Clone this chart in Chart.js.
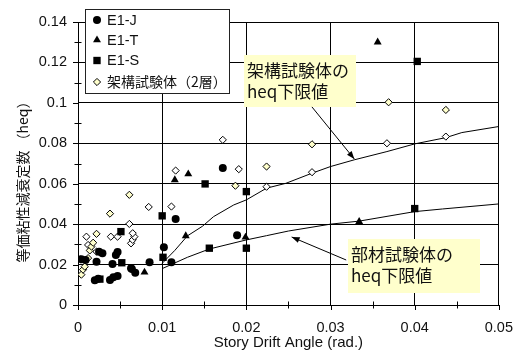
<!DOCTYPE html>
<html><head><meta charset="utf-8">
<script src="https://cdn.jsdelivr.net/npm/chart.js@4.4.0/dist/chart.umd.min.js"></script>
<style>html,body{margin:0;padding:0;background:#fff}#wrap{width:527px;height:350px}</style>
</head><body><div id="wrap"><canvas id="c" width="527" height="350"></canvas></div>
<script>
// ---- data ----
const xTickLabels = ['0', '0.01', '0.02', '0.03', '0.04', '0.05'];
const yTickLabels = ['0', '0.02', '0.04', '0.06', '0.08', '0.1', '0.12', '0.14'];
const seriesNames = ['E1-J', 'E1-T', 'E1-S', '架構試験体（2層）'];

const e1J_x = [0.0172, 0.0116, 0.0189, 0.0102, 0.0111, 0.0085, 0.0064, 0.0068, 0.0063, 0.0041, 0.0047, 0.0045, 0.0029, 0.0025, 0.0022, 0.0009, 0.0004, 0.0038, 0.0042, 0.0047, 0.0020, 0.0024];
const e1J_y = [0.0678, 0.0426, 0.0345, 0.0286, 0.0212, 0.0212, 0.0178, 0.0160, 0.0182, 0.0203, 0.0262, 0.0247, 0.0256, 0.0264, 0.0214, 0.0223, 0.0226, 0.0124, 0.0137, 0.0144, 0.0122, 0.0130];

const e1T_x = [0.0356, 0.0131, 0.0115, 0.0128, 0.0199, 0.0079, 0.0334];
const e1T_y = [0.1300, 0.0648, 0.0619, 0.0342, 0.0335, 0.0162, 0.0412];

const e1S_x = [0.0403, 0.0151, 0.0200, 0.0100, 0.0051, 0.0101, 0.0156, 0.0200, 0.0052, 0.0026, 0.0400];
const e1S_y = [0.1205, 0.0599, 0.0561, 0.0441, 0.0363, 0.0236, 0.0281, 0.0281, 0.0209, 0.0128, 0.0477];

const frameY_x = [0.0004, 0.0006, 0.0008, 0.0012, 0.0014, 0.0016, 0.0018, 0.0022, 0.0038, 0.0061, 0.0187, 0.0224, 0.0278, 0.0369, 0.0437];
const frameY_y = [0.0150, 0.0175, 0.0190, 0.0232, 0.0270, 0.0289, 0.0308, 0.0352, 0.0452, 0.0545, 0.0590, 0.0685, 0.0795, 0.1003, 0.0965];

const frameW_x = [0.0003, 0.0010, 0.0012, 0.0022, 0.0039, 0.0047, 0.0061, 0.0063, 0.0065, 0.0067, 0.0065, 0.0084, 0.0111, 0.0116, 0.0172, 0.0191, 0.0224, 0.0278, 0.0367, 0.0437];
const frameW_y = [0.0226, 0.0338, 0.0297, 0.0264, 0.0338, 0.0338, 0.0401, 0.0305, 0.0322, 0.0338, 0.0355, 0.0485, 0.0487, 0.0665, 0.0817, 0.0672, 0.0585, 0.0657, 0.0800, 0.0833];

const upper_x = [0.0100, 0.0115, 0.0130, 0.0148, 0.0161, 0.0185, 0.0200, 0.0224, 0.0247, 0.0278, 0.0300, 0.0328, 0.0367, 0.0400, 0.0437, 0.0456, 0.0500];
const upper_y = [0.0206, 0.0270, 0.0342, 0.0390, 0.0437, 0.0495, 0.0520, 0.0578, 0.0602, 0.0652, 0.0685, 0.0718, 0.0759, 0.0797, 0.0828, 0.0853, 0.0883];

const lower_x = [0.0100, 0.0130, 0.0156, 0.0200, 0.0224, 0.0250, 0.0300, 0.0334, 0.0400, 0.0433, 0.0500];
const lower_y = [0.0180, 0.0236, 0.0277, 0.0322, 0.0343, 0.0366, 0.0400, 0.0415, 0.0462, 0.0475, 0.0500];

const yTitle = '等価粘性減衰定数 （heq）';
const xTitle = 'Story Drift Angle (rad.)';
const notes = [
  { lines: ['架構試験体の', 'heq下限値'], box: [0.01967, 0.1237, 0.03306, 0.0980], arrow: [0.02779, 0.0980, 0.03283, 0.0722] },
  { lines: ['部材試験体の', 'heq下限値'], box: [0.03213, 0.03265, 0.04773, 0.00594], arrow: [0.03186, 0.02226, 0.02538, 0.03364] }
];

const pts = (xs, ys) => xs.map((x, i) => ({ x: x, y: ys[i] }));
const YELLOW = '#ffffcc';
const fmt = v => String(+(+v).toFixed(3));

const datasets = [
  { label: 'lower', type: 'line', data: pts(lower_x, lower_y), borderColor: '#000', borderWidth: 1, pointRadius: 0, fill: false, tension: 0, order: 10 },
  { label: 'upper', type: 'line', data: pts(upper_x, upper_y), borderColor: '#000', borderWidth: 1, pointRadius: 0, fill: false, tension: 0, order: 10 },
  { label: seriesNames[3] + '-w', data: pts(frameW_x, frameW_y), pointStyle: 'rectRot', pointRadius: 3.6, backgroundColor: '#fff', borderColor: '#000', borderWidth: 1, order: 5 },
  { label: seriesNames[3], data: pts(frameY_x, frameY_y), pointStyle: 'rectRot', pointRadius: 3.6, backgroundColor: YELLOW, borderColor: '#000', borderWidth: 1, order: 4 },
  { label: seriesNames[0], data: pts(e1J_x, e1J_y), pointStyle: 'circle', pointRadius: 4, backgroundColor: '#000', borderColor: '#000', borderWidth: 0, order: 3 },
  { label: seriesNames[1], data: pts(e1T_x, e1T_y), pointStyle: 'triangle', pointRadius: 4.6, backgroundColor: '#000', borderColor: '#000', borderWidth: 0, order: 2 },
  { label: seriesNames[2], data: pts(e1S_x, e1S_y), pointStyle: 'rect', pointRadius: 5.2, backgroundColor: '#000', borderColor: '#000', borderWidth: 0, order: 1 }
];

const FONT = "'Liberation Sans', Arial, sans-serif";
const JFONT = "'Noto Sans CJK JP', 'Noto Sans', sans-serif";

const decorPlugin = {
  id: 'decor',
  afterDraw(chart) {
    const ctx = chart.ctx;
    const xs = chart.scales.x, ys = chart.scales.y;
    const ca = chart.chartArea;
    const X = v => xs.getPixelForValue(v), Y = v => ys.getPixelForValue(v);
    ctx.save();
    ctx.strokeStyle = '#000';
    ctx.lineWidth = 1;
    // ticks crossing axes
    ctx.beginPath();
    for (let i = 0; i <= 14; i++) {
      const py = Math.round(Y(i * 0.01)) + 0.5;
      const major = i % 2 === 0;
      ctx.moveTo(ca.left - (major ? 5 : 3.5), py);
      ctx.lineTo(ca.left + (major ? 0 : 3.5), py);
    }
    for (let i = 0; i <= 10; i++) {
      const px = Math.round(X(i * 0.005)) + 0.5;
      const major = i % 2 === 0;
      ctx.moveTo(px, ca.bottom + (major ? 5 : 3.5));
      ctx.lineTo(px, ca.bottom - (major ? 0 : 3.5));
    }
    ctx.stroke();

    // y title
    ctx.save();
    ctx.translate(23, 178.5);
    ctx.rotate(-Math.PI / 2);
    ctx.fillStyle = '#111';
    ctx.font = '14px ' + JFONT;
    ctx.textAlign = 'center';
    ctx.textBaseline = 'middle';
    ctx.fillText(yTitle, 0, 0);
    ctx.restore();

    // annotations
    notes.forEach(n => {
      const x0 = Math.round(X(n.box[0])), y0 = Math.round(Y(n.box[1]));
      const x1 = Math.round(X(n.box[2])), y1 = Math.round(Y(n.box[3]));
      ctx.fillStyle = YELLOW;
      ctx.fillRect(x0, y0, x1 - x0, y1 - y0);
      ctx.fillStyle = '#111';
      ctx.font = '17px ' + JFONT;
      ctx.textAlign = 'left';
      ctx.textBaseline = 'middle';
      n.lines.forEach((t, i) => ctx.fillText(t, x0 + 3, y0 + 16 + i * 21));
      const ax0 = X(n.arrow[0]), ay0 = Y(n.arrow[1]), ax1 = X(n.arrow[2]), ay1 = Y(n.arrow[3]);
      ctx.beginPath();
      ctx.moveTo(ax0, ay0); ctx.lineTo(ax1, ay1);
      ctx.strokeStyle = '#000'; ctx.lineWidth = 1;
      ctx.stroke();
      const ang = Math.atan2(ay1 - ay0, ax1 - ax0);
      ctx.beginPath();
      ctx.moveTo(ax1, ay1);
      ctx.lineTo(ax1 - 8 * Math.cos(ang) + 3 * Math.sin(ang), ay1 - 8 * Math.sin(ang) - 3 * Math.cos(ang));
      ctx.lineTo(ax1 - 8 * Math.cos(ang) - 3 * Math.sin(ang), ay1 - 8 * Math.sin(ang) + 3 * Math.cos(ang));
      ctx.closePath();
      ctx.fillStyle = '#000';
      ctx.fill();
    });

    // legend
    const lx = 85.5, ly = 9.5, lw = 144, lh = 84;
    ctx.fillStyle = '#fff';
    ctx.fillRect(lx, ly, lw, lh);
    ctx.strokeStyle = '#222';
    ctx.strokeRect(lx, ly, lw, lh);
    const legendSets = [4, 5, 6, 3];
    const rowY = [20, 40, 60.5, 82];
    legendSets.forEach((di, i) => {
      const ds = chart.data.datasets[di];
      ctx.fillStyle = ds.backgroundColor;
      ctx.strokeStyle = '#000';
      ctx.lineWidth = 1;
      Chart.helpers.drawPoint(ctx, { pointStyle: ds.pointStyle, radius: ds.pointRadius, rotation: 0, borderWidth: ds.borderWidth }, 97, rowY[i]);
      ctx.fillStyle = '#111';
      ctx.textAlign = 'left';
      ctx.textBaseline = 'middle';
      ctx.font = (i < 3 ? '14.5px ' + FONT : '14px ' + JFONT);
      ctx.fillText(ds.label, 107, rowY[i] + (i < 3 ? 0.5 : 0));
    });
    ctx.restore();
  }
};

new Chart(document.getElementById('c'), {
  type: 'scatter',
  data: { datasets: datasets },
  options: {
    responsive: false,
    animation: false,
    devicePixelRatio: 1,
    layout: { padding: { top: 22, right: 19.5, left: 0, bottom: 0 } },
    plugins: { legend: { display: false }, tooltip: { enabled: false } },
    scales: {
      x: {
        type: 'linear', min: 0, max: 0.05,
        afterFit: s => { s.height = 45; },
        grid: { color: '#000', lineWidth: 1, drawTicks: false },
        border: { color: '#000', width: 1 },
        ticks: { stepSize: 0.01, padding: 14, color: '#111', font: { family: FONT, size: 14.5 }, maxRotation: 0,
          callback: (v, i) => xTickLabels[i] !== undefined ? xTickLabels[i] : fmt(v) },
        title: { display: true, text: xTitle, color: '#111', font: { family: FONT, size: 15, lineHeight: 1 }, padding: 0 }
      },
      y: {
        type: 'linear', min: 0, max: 0.14,
        afterFit: s => { s.width = 78; },
        grid: { color: '#000', lineWidth: 1, drawTicks: false },
        border: { color: '#000', width: 1 },
        ticks: { stepSize: 0.02, padding: 11, color: '#111', font: { family: FONT, size: 14.5 },
          callback: (v, i) => yTickLabels[i] !== undefined ? yTickLabels[i] : fmt(v) }
      }
    }
  },
  plugins: [decorPlugin]
});
</script>
</body></html>
